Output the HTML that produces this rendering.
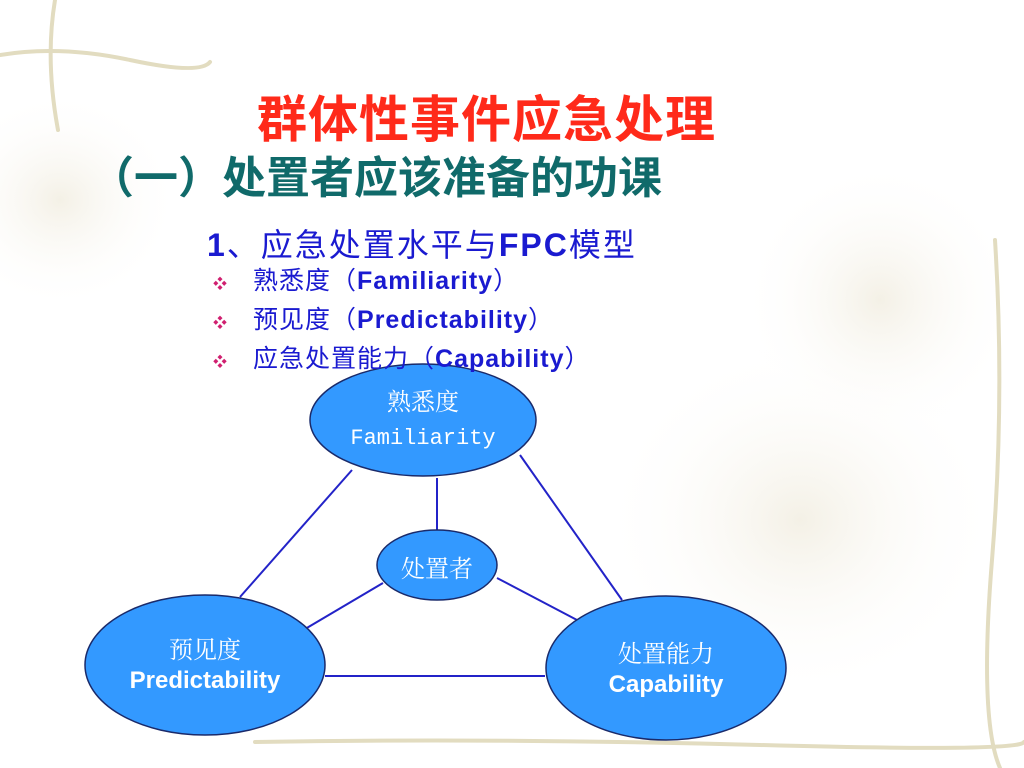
<!DOCTYPE html>
<html><head><meta charset="utf-8"><style>
body{margin:0;width:1024px;height:768px;overflow:hidden;background:#fff;position:relative;font-family:"Liberation Sans","Noto Sans CJK SC",sans-serif}
.t{position:absolute;white-space:nowrap}
.b{position:absolute;left:213px;font-size:25px;letter-spacing:1px;color:#1a1ad0;white-space:nowrap;line-height:30px}
.b i{font-style:normal;color:#d02070;font-size:14px;display:inline-block;width:40px}
</style></head><body>
<svg width="1024" height="768" style="position:absolute;left:0;top:0">
<defs><radialGradient id="g" cx="50%" cy="50%" r="50%"><stop offset="0" stop-color="#efeadb" stop-opacity=".7"/><stop offset="1" stop-color="#fff" stop-opacity="0"/></radialGradient></defs>
<ellipse cx="60" cy="200" rx="120" ry="110" fill="url(#g)"/>
<ellipse cx="800" cy="520" rx="200" ry="180" fill="url(#g)"/>
<ellipse cx="880" cy="300" rx="140" ry="140" fill="url(#g)"/>
<g stroke="#e2dcc0" stroke-width="4" fill="none" stroke-linecap="round">
<path d="M0 55 Q60 45 130 60 T210 62"/><path d="M55 0 Q45 60 58 130"/>
<path d="M995 240 Q1005 400 992 560 T1000 768"/>
<path d="M255 742 Q500 738 760 745 T1024 742"/>
</g>
<g stroke="#2323c8" stroke-width="2">
<line x1="352" y1="470" x2="240" y2="597"/><line x1="520" y1="455" x2="622" y2="600"/>
<line x1="437" y1="478" x2="437" y2="530"/><line x1="383" y1="583" x2="300" y2="632"/>
<line x1="497" y1="578" x2="577" y2="620"/><line x1="325" y1="676" x2="545" y2="676"/>
</g>
<g fill="#3399ff" stroke="#1a2a6a" stroke-width="1.5">
<ellipse cx="423" cy="420" rx="113" ry="56"/>
<ellipse cx="205" cy="665" rx="120" ry="70"/>
<ellipse cx="666" cy="668" rx="120" ry="72"/>
<ellipse cx="437" cy="565" rx="60" ry="35"/>
</g>
</svg>
<div class="t" style="left:257px;top:80px;font-size:50px;letter-spacing:1px;font-weight:bold;color:#ff2a1a">群体性事件应急处理</div>
<div class="t" style="left:90px;top:142px;font-size:44px;font-weight:bold;color:#106a6a">（一）处置者应该准备的功课</div>
<div class="t" style="left:207px;top:220px;font-size:32px;letter-spacing:2px;color:#1a1ad0"><b>1</b>、应急处置水平与<b>FPC</b>模型</div>
<div class="b" style="top:266px"><i>❖</i>熟悉度（<b>Familiarity</b>）</div>
<div class="b" style="top:305px"><i>❖</i>预见度（<b>Predictability</b>）</div>
<div class="b" style="top:344px"><i>❖</i>应急处置能力（<b>Capability</b>）</div>
<div class="t" style="left:323px;top:388px;width:200px;text-align:center;color:#fff;font-size:22px;line-height:34px;font-family:'Liberation Mono','Noto Serif CJK SC',monospace"><span style="font-size:24px">熟悉度</span><br>Familiarity</div>
<div class="t" style="left:377px;top:549px;width:120px;text-align:center;color:#fff;font-size:24px;font-family:'Liberation Serif','Noto Serif CJK SC',serif">处置者</div>
<div class="t" style="left:105px;top:633px;width:200px;text-align:center;color:#fff;font-size:24px;line-height:30px"><span style="font-family:'Noto Serif CJK SC',serif">预见度</span><br><b>Predictability</b></div>
<div class="t" style="left:566px;top:637px;width:200px;text-align:center;color:#fff;font-size:24px;line-height:30px"><span style="font-family:'Noto Serif CJK SC',serif">处置能力</span><br><b>Capability</b></div>
</body></html>
